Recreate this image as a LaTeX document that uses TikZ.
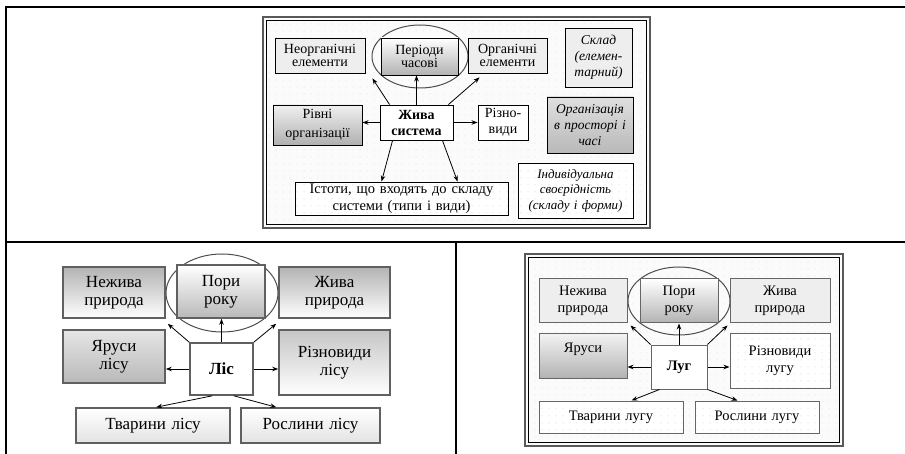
\documentclass[tikz,border=0pt]{standalone}
\usepackage{fontspec}
\setmainfont{Liberation Serif}
\usetikzlibrary{arrows.meta,shapes.geometric,patterns.meta}

\tikzdeclarepattern{
  name=sparsedots, type=uncolored,
  bounding box={(0pt,0pt) and (7pt,7pt)},
  tile size={(7pt,7pt)},
  code={\pgfpathcircle{\pgfqpoint{3.5pt}{3.5pt}}{0.55pt}\pgfusepath{fill}}
}

\tikzset{
  wh/.style 2 args={minimum width=#1pt, minimum height=#2pt, text width=#1pt},
  bx/.style={draw, rectangle, inner sep=0pt, align=center, line width=0.9pt},
  bxB/.style={bx, line width=1.6pt, draw=gray!75!black},
  bxC/.style={bx, line width=1pt, draw=gray!80!black},
  marble/.style={fill=gray!13},
  dotfill/.style={preaction={fill=white}, pattern=sparsedots, pattern color=gray!45},
  shUp/.style={top color=white, bottom color=gray!60},
  shDown/.style={top color=gray!60, bottom color=white},
  ftA/.style={font=\fontsize{14}{13.5}\selectfont},
  ftAi/.style={font=\fontsize{13.5}{16}\selectfont\itshape},
  ftB/.style={font=\fontsize{17}{18}\selectfont},
  ftC/.style={font=\fontsize{14.5}{17}\selectfont},
  ell/.style={ellipse, draw=gray!60!black, line width=1pt, inner sep=0pt},
  arr/.style={-{Stealth[length=6pt,width=4.5pt]}, line width=0.8pt},
  tline/.style={line width=1.1pt}
}

\begin{document}
\begin{tikzpicture}[x=1pt, y=-1pt]
\useasboundingbox (0,0) rectangle (905,454);

% table lines
\draw[tline] (6,454) -- (6,7) -- (905,7);
\draw[tline] (6,242) -- (905,242);
\draw[tline] (456,242) -- (456,454);

% ---------- top diagram ----------
\draw[line width=1.6pt, draw=gray!70!black, fill=gray!3] (263,17) rectangle (650,228);
\fill[pattern=sparsedots, pattern color=gray!35] (266.5,20.5) rectangle (646.5,224.5);
\draw[line width=0.7pt] (266.5,20.5) rectangle (646.5,224.5);

\node[ell, minimum width=96pt, minimum height=63pt] (ellA) at (420,56.5) {};

\node[bx, marble, wh={90}{35}, ftA] (neorg) at (320,55.5) {Неорганічні\\елементи};
\node[bx, shUp, wh={77}{37}, ftA] (period) at (419.5,56.5) {Періоди\\часові};
\node[bx, marble, wh={79}{35}, ftA] (org) at (507.5,55.5) {Органічні\\елементи};
\node[bx, marble, wh={67}{59}, ftAi] (sklad) at (598.5,57.5) {Склад\\(елемен-\\тарний)};
\node[bx, top color=gray!12, bottom color=gray!62, wh={89}{40}, font=\fontsize{14}{19}\selectfont] (rivni) at (317.5,125) {Рівні\\організації};
\node[bx, fill=white, wh={73}{35}, font=\fontsize{14}{16}\selectfont\bfseries] (zhyva) at (416.5,122.5) {Жива\\система};
\node[bx, fill=white, wh={50}{35}, font=\fontsize{14}{16}\selectfont] (rizno) at (503,122.5) {Різно-\\види};
\node[bx, top color=gray!25, bottom color=gray!55, wh={86}{56}, ftAi] (orgpr) at (590,125) {Організація\\в просторі і\\часі};
\node[bx, dotfill, wh={213}{33}, font=\fontsize{14.5}{17}\selectfont] (istoty) at (401.5,198.5) {Істоти, що входять до складу\\системи (типи і види)};
\node[bx, dotfill, wh={115}{55}, font=\fontsize{13}{15.5}\selectfont\itshape] (indiv) at (575.5,190.5) {Індивідуальна\\своєрідність\\(складу і форми)};

\draw[arr] ([xshift=10pt]zhyva.north west) -- ([xshift=7pt,yshift=-5pt]neorg.south east);
\draw[arr] (zhyva.north) -- (zhyva.north |- period.south);
\draw[arr] ([xshift=-5pt]zhyva.north east) -- ([xshift=12pt,yshift=-4pt]org.south west);
\draw[arr] (zhyva.west) -- (zhyva.west -| rivni.east);
\draw[arr] (zhyva.east) -- (zhyva.east -| rizno.west);
\draw[arr] ([xshift=13pt]zhyva.south west) -- ([xshift=87pt]istoty.north west);
\draw[arr] ([xshift=-11pt]zhyva.south east) -- ([xshift=163pt]istoty.north west);

% ---------- bottom-left diagram ----------
\node[ell, minimum width=112pt, minimum height=78pt] (ellB) at (222,293) {};

\node[bxB, shDown, wh={102}{51}, ftB] (nezh) at (114,292.5) {Нежива\\природа};
\node[bxB, top color=white, bottom color=gray!55, wh={88}{53}, ftB] (pory) at (221,291.5) {Пори\\року};
\node[bxB, shDown, wh={111}{51}, ftB] (zhyvap) at (334.5,292.5) {Жива\\природа};
\node[bxB, top color=gray!20, bottom color=gray!55, wh={102}{53}, ftB] (yarusy) at (114,356.5) {Яруси\\лісу};
\node[bxB, fill=white, wh={63}{52}, font=\fontsize{17}{18}\selectfont\bfseries] (lis) at (221.5,369) {Ліс};
\node[bxB, top color=gray!45, bottom color=white, wh={111}{65}, ftB] (riznov) at (334.5,362.5) {Різновиди\\лісу};
\node[bxB, top color=white, bottom color=gray!22, wh={154}{35}, ftB] (tvar) at (153,425.5) {Тварини лісу};
\node[bxB, top color=white, bottom color=gray!22, wh={139}{35}, ftB] (rosl) at (310.5,425.5) {Рослини лісу};

\draw[arr] (lis.north west) -- ([xshift=2pt,yshift=-5pt]nezh.south east);
\draw[arr] (lis.north) -- (lis.north |- pory.south);
\draw[arr] (lis.north east) -- ([xshift=-2pt,yshift=-5pt]zhyvap.south west);
\draw[arr] (lis.west) -- (lis.west -| yarusy.east);
\draw[arr] (lis.east) -- (lis.east -| riznov.west);
\draw[arr] ([xshift=23pt]lis.south west) -- ([xshift=81pt]tvar.north west);
\draw[arr] ([xshift=-20pt]lis.south east) -- ([xshift=36pt]rosl.north west);

% ---------- bottom-right diagram ----------
\draw[line width=1.6pt, draw=gray!70!black, fill=gray!3] (525,254) rectangle (843,446);
\fill[pattern=sparsedots, pattern color=gray!35] (528.5,257.5) rectangle (839.5,442.5);
\draw[line width=0.7pt] (528.5,257.5) rectangle (839.5,442.5);

\node[ell, minimum width=102pt, minimum height=68pt] (ellC) at (679,301) {};

\node[bxC, marble, wh={88}{44}, ftC] (nezh2) at (583,301) {Нежива\\природа};
\node[bxC, shUp, wh={78}{44}, ftC] (pory2) at (679,301) {Пори\\року};
\node[bxC, marble, wh={100}{44}, ftC] (zhyv2) at (780,301) {Жива\\природа};
\node[bxC, top color=gray!10, bottom color=gray!60, wh={88}{44}, ftC] (yar2) at (583,356) {Яруси\\\mbox{}};
\node[bxC, fill=white, wh={56}{44}, font=\fontsize{14.5}{17}\selectfont\bfseries] (lug) at (679,367) {Луг};
\node[bxC, dotfill, wh={100}{54}, ftC] (rizn2) at (780,361) {Різновиди\\лугу};
\node[bxC, dotfill, wh={144}{32}, ftC] (tvar2) at (611,417) {Тварини лугу};
\node[bxC, dotfill, wh={124}{32}, ftC] (rosl2) at (757,417) {Рослини лугу};

\draw[arr] (lug.north west) -- ([xshift=3pt,yshift=-2pt]nezh2.south east);
\draw[arr] (lug.north) -- (lug.north |- pory2.south);
\draw[arr] (lug.north east) -- ([xshift=-2pt,yshift=-2pt]zhyv2.south west);
\draw[arr] (lug.west) -- (lug.west -| yar2.east);
\draw[arr] (lug.east) -- (lug.east -| rizn2.west);
\draw[arr] ([xshift=9pt]lug.south west) -- ([xshift=93pt]tvar2.north west);
\draw[arr] (lug.south east) -- ([xshift=43pt]rosl2.north west);
\end{tikzpicture}
\end{document}
